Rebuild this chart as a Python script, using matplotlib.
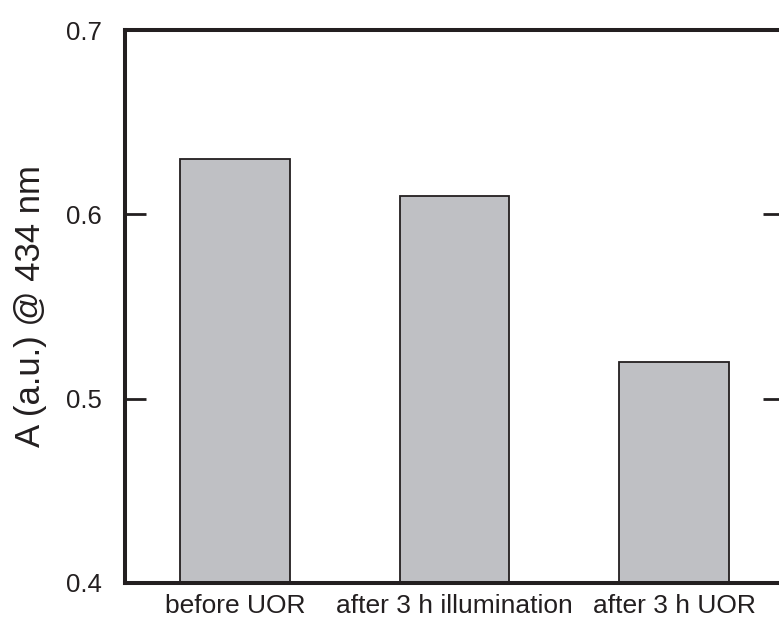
import matplotlib.pyplot as plt

plt.rcParams['font.family'] = ['Liberation Sans', 'DejaVu Sans']

categories = ['before UOR', 'after 3 h illumination', 'after 3 h UOR']
absorbance = [0.63, 0.61, 0.52]
yticks = [0.4, 0.5, 0.6, 0.7]

ink = '#231f20'

fig = plt.figure(figsize=(7.79, 6.30), dpi=100)
ax = fig.add_axes([125 / 779, 47 / 630, 659 / 779, 553 / 630])

ax.bar(range(len(categories)), absorbance, width=0.5, bottom=0,
       color='#bfc0c4', edgecolor=ink, linewidth=1.3)

ax.set_xlim(-0.5, 2.5)
ax.set_ylim(0.4, 0.7)
ax.set_yticks(yticks)
ax.set_yticklabels(['0.4', '0.5', '0.6', '0.7'])
ax.set_xticks(range(len(categories)))
ax.set_xticklabels(categories)

for s in ax.spines.values():
    s.set_linewidth(2.9)
    s.set_color(ink)

ax.tick_params(axis='y', direction='in', length=15, width=2, color=ink,
               labelsize=18.5, labelcolor=ink, pad=17, right=True)
ax.tick_params(axis='x', length=0, labelsize=19, labelcolor=ink, pad=8)

ax.set_ylabel('A (a.u.) @ 434 nm', fontsize=25, color=ink, labelpad=13)

fig.savefig('out.png', dpi=100)
